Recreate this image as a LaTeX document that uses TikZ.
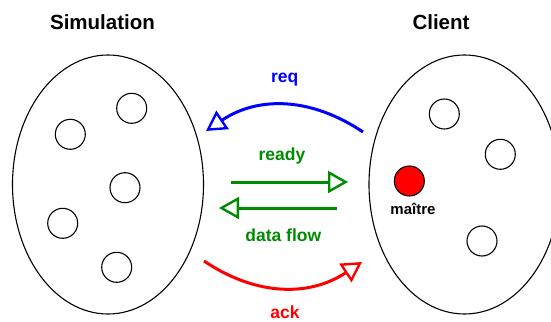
\documentclass[tikz,border=0pt]{standalone}
\usepackage{fontspec}
\setmainfont{Liberation Sans}
\usetikzlibrary{shapes.geometric,arrows.meta,positioning}
\definecolor{reqblue}{RGB}{0,0,255}
\definecolor{flowgreen}{RGB}{0,140,0}
\definecolor{ackred}{RGB}{255,0,0}

\begin{document}
\begin{tikzpicture}[
    x=1pt, y=-1pt,
    group/.style={draw, ellipse, minimum width=191pt, minimum height=259pt, inner sep=0pt, line width=1.1pt},
    proc/.style={draw, circle, minimum size=30pt, inner sep=0pt, line width=1.1pt},
    title/.style={font=\fontsize{20.5}{24}\selectfont\bfseries, anchor=base},
    msg/.style={font=\fontsize{17.5}{21}\selectfont\bfseries, anchor=base},
    arrow/.style={line width=3pt, -{Triangle[open, length=20pt, width=22pt, line width=2.4pt]}}
]
    \useasboundingbox (0,0) rectangle (551,321);

    \node[group] (sim) at (108,184.5) {};
    \node[group] (cli) at (464.5,184.5) {};
    \node[title] (simlabel) at (102.5,30) {Simulation};
    \node[title] (clilabel) at (441,30) {Client};

    \node[proc] (s1) at (131.7,108.3) {};
    \node[proc] (s2) at (70.3,134.3) {};
    \node[proc] (s3) at (125,187.7) {};
    \node[proc] (s4) at (62.7,223.3) {};
    \node[proc] (s5) at (116.7,267.3) {};

    \node[proc] (c1) at (444.3,114) {};
    \node[proc] (c2) at (500.3,154.3) {};
    \node[proc] (c3) at (482,241) {};
    \node[proc, fill=red] (master) at (409.3,181) {};
    \node[font=\fontsize{15}{18}\selectfont\bfseries, anchor=base] (masterlabel) at (413,214) {maître};

    \coordinate (reqstart) at (363,132);
    \coordinate (reqend) at (206,131);
    \coordinate (readystart) at (231,182);
    \coordinate (readyend) at (348,182);
    \coordinate (flowstart) at (337,208);
    \coordinate (flowend) at (219,208);
    \coordinate (ackstart) at (204,261);
    \coordinate (ackend) at (362,262);

    \draw[arrow, reqblue] (reqstart) .. controls (311,97) and (258,96) .. (reqend);
    \draw[arrow, flowgreen] (readystart) -- (readyend);
    \draw[arrow, flowgreen] (flowstart) -- (flowend);
    \draw[arrow, ackred] (ackstart) .. controls (256,296) and (309,297) .. (ackend);

    \node[msg, text=reqblue] (reqlabel) at (284.7,82.7) {req};
    \node[msg, text=flowgreen] (readylabel) at (282,160) {ready};
    \node[msg, text=flowgreen] (flowlabel) at (283.3,241.7) {data flow};
    \node[msg, text=ackred] (acklabel) at (285,318) {ack};
\end{tikzpicture}
\end{document}
